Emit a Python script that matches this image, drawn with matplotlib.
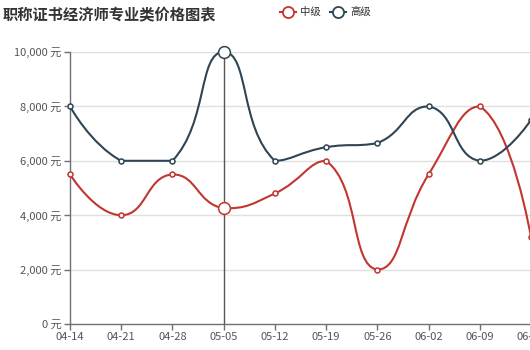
import numpy as np
import matplotlib
matplotlib.use("Agg")
import matplotlib.pyplot as plt
from matplotlib.path import Path
from matplotlib.patches import PathPatch
from matplotlib.ticker import FixedLocator, FuncFormatter

plt.rcParams['font.family'] = ['Noto Sans CJK SC', 'DejaVu Sans']

dates = ["04-14", "04-21", "04-28", "05-05", "05-12", "05-19",
         "05-26", "06-02", "06-09", "06-16"]
mid_level = [5500, 4000, 5500, 4250, 4800, 6000, 2000, 5500, 8000, 3200]
senior_level = [8000, 6000, 6000, 10000, 6000, 6500, 6650, 8000, 6000, 7500]
series_names = ["中级", "高级"]
colors = ["#c23531", "#2f4554"]
y_ticks = [0, 2000, 4000, 6000, 8000, 10000]
focus_index = 3

W, H = 530, 350
fig = plt.figure(figsize=(W / 100, H / 100), dpi=100)
left, right, bottom, top = 70, 531, 350 - 324, 350 - 52
ax = fig.add_axes([left / W, bottom / H, (right - left) / W, (top - bottom) / H])

n = len(dates)
x = np.arange(n)
ax.set_xlim(0, n - 1)
ax.set_ylim(0, 10000)

# pixel scale used for the smoothing distances
sx = (right - left) / (n - 1)
sy = (top - bottom) / 10000.0


def clamp(pt, a, b):
    return (min(max(pt[0], min(a[0], b[0])), max(a[0], b[0])),
            min(max(pt[1], min(a[1], b[1])), max(a[1], b[1])))


def smooth_path(xs, ys, smooth=0.5):
    """Cubic Bezier smoothing; control points kept inside each segment's box."""
    P = [np.array((xi * sx, yi * sy), float) for xi, yi in zip(xs, ys)]
    m = len(P)
    verts = [tuple(P[0])]
    codes = [Path.MOVETO]
    cp0 = P[0].copy()
    for i in range(1, m):
        prev, cur = P[i - 1], P[i]
        if i + 1 >= m:
            cp1 = cur.copy()
            ncp0 = cur.copy()
        else:
            nxt = P[i + 1]
            v = nxt - prev
            lp = np.linalg.norm(cur - prev)
            ln = np.linalg.norm(nxt - cur)
            r = ln / (ln + lp)
            cp1 = cur - v * smooth * (1 - r)
            ncp0 = cur + v * smooth * r
        c0 = clamp(cp0, prev, cur)
        c1 = clamp(cp1, prev, cur)
        verts += [c0, c1, tuple(cur)]
        codes += [Path.CURVE4] * 3
        cp0 = ncp0
    verts = [(a / sx, b / sy) for a, b in verts]
    return Path(verts, codes)


# grid lines
for t in y_ticks[1:]:
    ax.axhline(t, color="#e0e0e0", lw=1, zorder=0)

# axis pointer at the focused category
ax.axvline(focus_index, color="#555555", lw=1, zorder=1)

for vals, col in zip([mid_level, senior_level], colors):
    ax.add_patch(PathPatch(smooth_path(x, vals), fill=False, edgecolor=col,
                           lw=1.5, zorder=3, capstyle="round", joinstyle="round"))
    small = [i for i in range(n) if i != focus_index]
    ax.plot(x[small], np.array(vals)[small], "o", ms=3.6, mfc="white",
            mec=col, mew=1.1, zorder=4, clip_on=False)
    ax.plot([focus_index], [vals[focus_index]], "o", ms=8.5, mfc="white",
            mec=col, mew=1.1, zorder=5, clip_on=False)

for s in ["top", "right"]:
    ax.spines[s].set_visible(False)
for s in ["left", "bottom"]:
    ax.spines[s].set_color("#6e7079")
    ax.spines[s].set_linewidth(1)

ax.xaxis.set_major_locator(FixedLocator(x))
ax.set_xticklabels(dates)
ax.yaxis.set_major_locator(FixedLocator(y_ticks))
ax.yaxis.set_major_formatter(FuncFormatter(lambda v, p: f"{int(v):,} 元"))
ax.tick_params(axis="both", colors="#6e7079", labelcolor="#555555",
               labelsize=8, length=4, width=1)
ax.tick_params(axis="x", pad=2)
ax.tick_params(axis="y", pad=2)

fig.text(3 / W, 1 - 15 / H, "职称证书经济师专业类价格图表", fontsize=11,
         fontweight="bold", color="#333333", va="center", ha="left")

# legend
leg_y = 1 - 12 / H
for name, col, x0 in zip(series_names, colors, [280, 330]):
    fig.add_artist(plt.Line2D([x0 / W, (x0 + 16) / W], [leg_y, leg_y],
                              color=col, lw=1.5, transform=fig.transFigure))
    fig.add_artist(plt.Line2D([(x0 + 8) / W], [leg_y], marker="o", ms=8,
                              mfc="white", mec=col, mew=1.3,
                              transform=fig.transFigure))
    fig.text((x0 + 20) / W, leg_y, name, fontsize=7.5, color="#333333",
             va="center", ha="left")

fig.savefig("out.png", dpi=100)
